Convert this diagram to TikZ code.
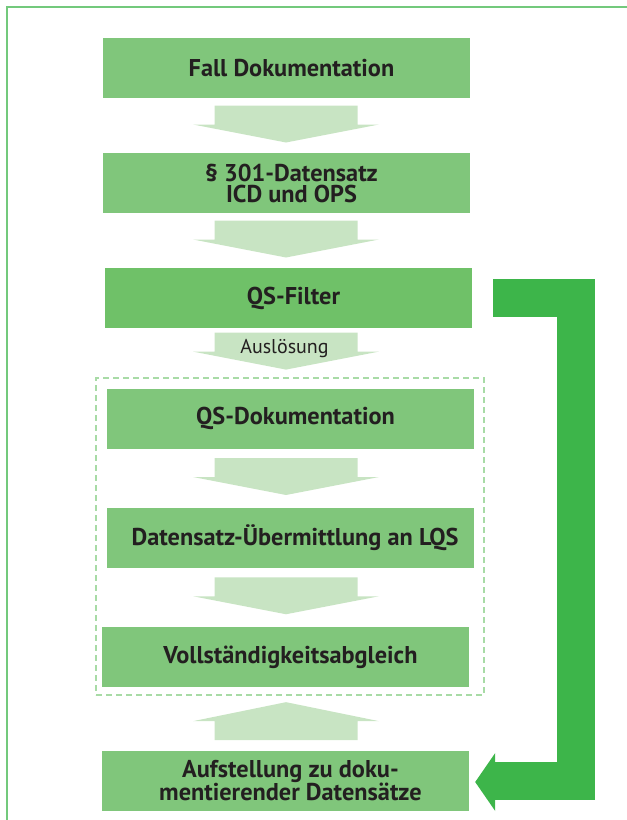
\documentclass[tikz,border=0pt]{standalone}
\usepackage{fontspec}
\setmainfont{PT Sans}
\usetikzlibrary{calc}
\definecolor{boxgreen}{HTML}{80C67B}
\definecolor{filtergreen}{HTML}{6FC168}
\definecolor{bigarrow}{HTML}{3DB54A}
\definecolor{lightarrow}{HTML}{C8E4C3}
\definecolor{dashgreen}{HTML}{A8DBA6}
\definecolor{framegreen}{HTML}{73C97C}
\definecolor{txt}{HTML}{231F20}
\newcommand\sh{\hspace*{10pt}}
\tikzset{
  procbox/.style={fill=boxgreen, minimum width=367pt, minimum height=60pt, inner sep=0pt,
    align=center, text=txt, font=\fontsize{24.3}{21}\selectfont\bfseries},
  groupbox/.style={draw=dashgreen, line width=2pt, dash pattern=on 6pt off 4pt, inner sep=0pt},
  lightfill/.style={fill=lightarrow},
  bigfill/.style={draw=bigarrow, line width=38pt, line join=miter, line cap=butt},
}
\newcommand\blockdown[2]{%
  \path let \p1=($(#1.south)!0.5!(#2.north)$) in
    [lightfill] (286pt,\y1) ++(-71.5,-20) -- ++(143,0) -- ++(0,19) -- ++(21.5,0)
    -- ++(-93,18) -- ++(-93,-18) -- ++(21.5,0) -- cycle;}
\newcommand\blockup[2]{%
  \path let \p1=($(#1.north)!0.5!(#2.south)$) in
    [lightfill] (286pt,\y1) ++(0,-21) -- ++(93,19) -- ++(-21.5,0) -- ++(0,19)
    -- ++(-143,0) -- ++(0,-19) -- ++(-21.5,0) -- cycle;}
\begin{document}
\begin{tikzpicture}[x=1pt,y=-1pt]
\useasboundingbox (0,0) rectangle (627,820);
\clip (0,0) rectangle (627,820);
\draw[framegreen, line width=2pt] (6.5,7) rectangle (680,880);
\node[procbox] (n1) at (286.5,68) {\sh Fall Dokumentation};
\node[procbox] (n2) at (286.5,183) {\sh § 301-Datensatz\\\sh ICD und OPS};
\node[procbox, fill=filtergreen] (n3) at (288.5,298) {\sh QS-Filter};
\node[groupbox, minimum width=388pt, minimum height=317pt] (grp) at (290,536.5) {};
\node[procbox] (n4) at (290.5,418.5) {\sh QS-Dokumentation};
\node[procbox] (n5) at (290,537.5) {\sh Datensatz-Übermittlung an LQS};
\node[procbox] (n6) at (285.5,657) {\sh Vollständigkeitsabgleich};
\node[procbox, font=\fontsize{24.3}{21.5}\selectfont\bfseries] (n7) at (285.5,780.5) {\sh Aufstellung zu doku-\\\sh mentierender Datensätze};
\blockdown{n1}{n2}
\blockdown{n2}{n3}
\blockdown{n3}{grp}
\blockdown{n4}{n5}
\blockdown{n5}{n6}
\blockup{n7}{grp}
\node[text=txt, font=\fontsize{20}{20}\selectfont, anchor=base] (lab) at (284.5,353) {Auslösung};
\draw[bigfill] ($(n3.east)+(21,0)$) -- ++(83,0) |- ($(n7.east)+(26,0)$);
\fill[bigarrow] ($(n7.east)+(6,1.5)$) -- ++(20,-29) -- ++(0,58) -- cycle;
\end{tikzpicture}
\end{document}
